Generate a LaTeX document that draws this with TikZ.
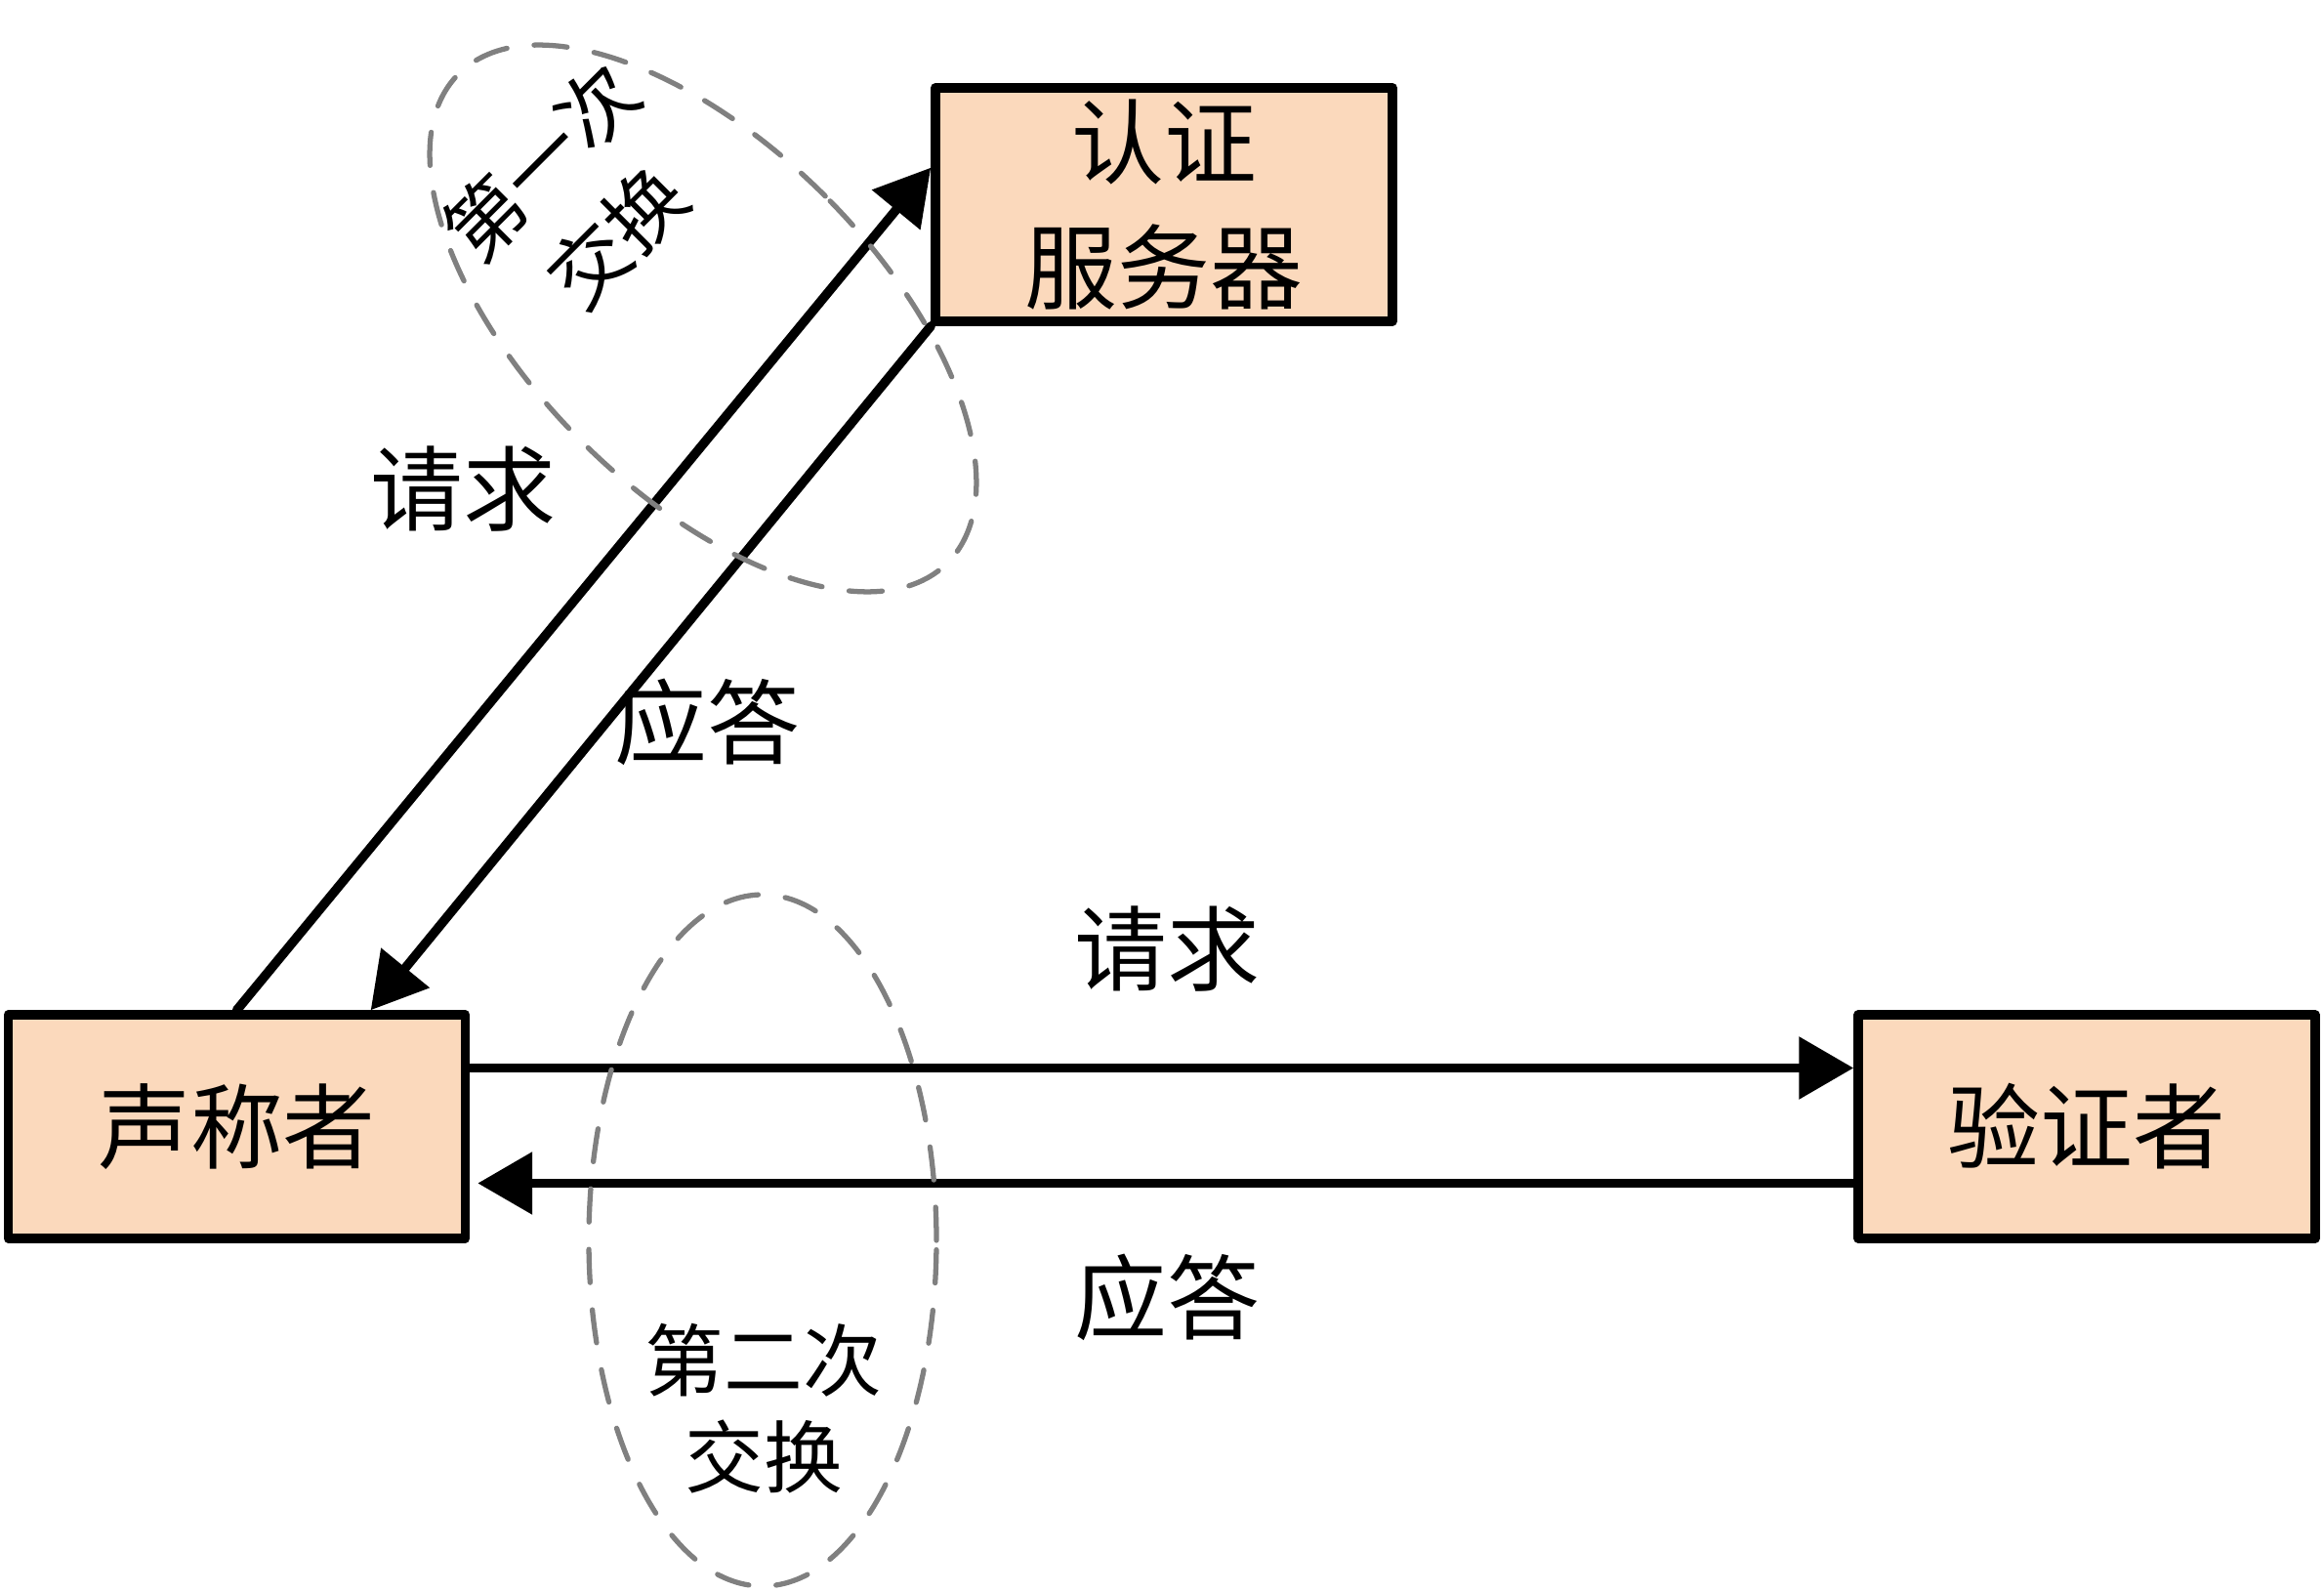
\documentclass[tikz,border=0pt]{standalone}
\usepackage{fontspec}
\setmainfont{Noto Sans CJK SC}
\usetikzlibrary{arrows.meta,positioning}
\definecolor{partyfill}{RGB}{251,217,188}
\definecolor{ringgray}{RGB}{128,128,128}

\begin{document}
\begin{tikzpicture}[
  party/.style={draw,line width=2.7pt,line join=round,fill=partyfill,
    minimum width=4.68cm,minimum height=2.29cm,align=center,
    font=\fontsize{27}{36.6}\selectfont},
  arrow/.style={-{Triangle[length=5.6mm,width=6.2mm]},line width=2.7pt,
    line cap=round},
  msg/.style={font=\fontsize{27}{32}\selectfont},
  exchangering/.style={draw=ringgray,line width=1.5pt,line cap=round,
    dash pattern=on 0.34cm off 0.28cm},
  ringtext/.style={align=center,font=\fontsize{23}{28}\selectfont}
]
  \useasboundingbox (0,0) rectangle (23.8,16.3);

  \node[party] (claimant) at (2.425,4.765) {声称者};
  \node[party] (verifier) at (21.37,4.765) {验证者};
  \node[party] (server) at (11.92,14.205) {认证\\服务器};

  \draw[arrow] (claimant.north) -- (server.171);
  \draw[arrow] (server.south west) -- (claimant.41);
  \draw[arrow] ([yshift=6mm]claimant.east) -- ([yshift=6mm]verifier.west);
  \draw[arrow,shorten >=0.8mm] ([yshift=-5.8mm]verifier.west)
    -- ([yshift=-5.8mm]claimant.east);

  \node[msg] (req1) at (4.74,11.29) {请求};
  \node[msg] (ans1) at (7.24,8.91) {应答};
  \node[msg] (req2) at (11.95,6.58) {请求};
  \node[msg] (ans2) at (11.95,3.02) {应答};

  \draw[exchangering] (7.20,13.04) ellipse [x radius=1.77, y radius=3.54, rotate=45];
  \draw[exchangering] (7.81,3.60) ellipse [x radius=1.78, y radius=3.54];

  \node[ringtext,rotate=45,font=\fontsize{23}{31}\selectfont] (first) at (5.93,14.26) {第一次\\交换};
  \node[ringtext] (second) at (7.82,1.88) {第二次\\交换};
\end{tikzpicture}
\end{document}
